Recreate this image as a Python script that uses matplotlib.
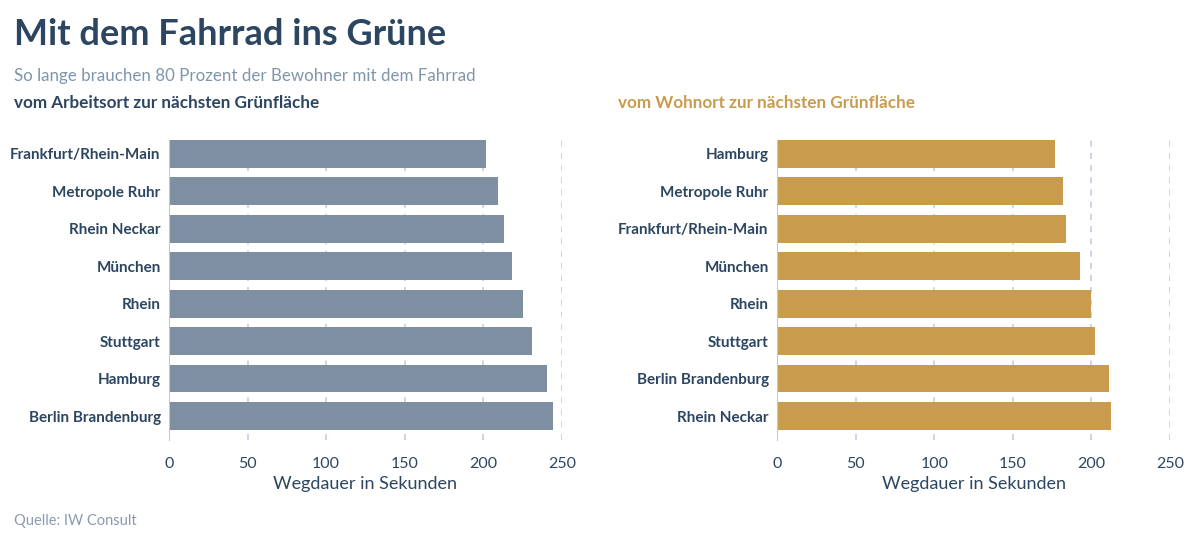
import matplotlib.pyplot as plt

plt.rcParams["font.family"] = ["Lato", "DejaVu Sans"]

# Arbeitsort (left panel)
work_regions = ["Frankfurt/Rhein-Main", "Metropole Ruhr", "Rhein Neckar", "München",
                "Rhein", "Stuttgart", "Hamburg", "Berlin Brandenburg"]
work_seconds = [201.5, 209, 213, 218, 225.5, 231, 240.5, 244.5]

# Wohnort (right panel)
home_regions = ["Hamburg", "Metropole Ruhr", "Frankfurt/Rhein-Main", "München",
                "Rhein", "Stuttgart", "Berlin Brandenburg", "Rhein Neckar"]
home_seconds = [177, 182, 184, 192.5, 200, 202, 211.5, 212.5]

x_ticks = [0, 50, 100, 150, 200, 250]

NAVY = "#2c4661"
GREY = "#7d8fa0"
GOLD = "#c99b4d"
GRID = "#bfcad8"

fig = plt.figure(figsize=(12, 5.38), dpi=100)


def draw_panel(ax, regions, values, color):
    pos = list(range(len(regions)))
    ax.barh(pos, values, height=0.74, color=color, zorder=3)
    ax.set_ylim(len(regions) - 1 + 0.64, -0.37)
    ax.set_xlim(0, 250)
    ax.set_xticks(x_ticks)
    ax.set_yticks(pos)
    ax.set_yticklabels(regions, fontsize=11, fontweight="bold", color=NAVY)
    ax.tick_params(axis="both", length=0)
    ax.tick_params(axis="y", pad=6)
    ax.tick_params(axis="x", pad=12, labelsize=11.5, labelcolor=NAVY)
    ax.grid(axis="x", color=GRID, linestyle=(0, (4, 4)), linewidth=1.1, zorder=0)
    for side in ["top", "right", "bottom"]:
        ax.spines[side].set_visible(False)
    ax.spines["left"].set_color(GRID)
    ax.spines["left"].set_zorder(4)
    ax.set_xlabel("Wegdauer in Sekunden", fontsize=13, color=NAVY, labelpad=4)


ax1 = fig.add_axes([0.1408, 0.1822, 0.3275, 0.5576])
draw_panel(ax1, work_regions, work_seconds, GREY)
ax2 = fig.add_axes([0.6475, 0.1822, 0.3275, 0.5576])
draw_panel(ax2, home_regions, home_seconds, GOLD)

fig.text(0.012, 0.935, "Mit dem Fahrrad ins Grüne", fontsize=26, fontweight="bold",
         color=NAVY, va="center")
fig.text(0.012, 0.858, "So lange brauchen 80 Prozent der Bewohner mit dem Fahrrad",
         fontsize=12.2, color="#7f95ab", va="center")
fig.text(0.012, 0.808, "vom Arbeitsort zur nächsten Grünfläche", fontsize=12.3,
         fontweight="bold", color=NAVY, va="center")
fig.text(0.515, 0.808, "vom Wohnort zur nächsten Grünfläche", fontsize=12.3,
         fontweight="bold", color=GOLD, va="center")
fig.text(0.012, 0.031, "Quelle: IW Consult", fontsize=10.5, color="#8a9bb0", va="center")

fig.savefig("out.png", dpi=100)
